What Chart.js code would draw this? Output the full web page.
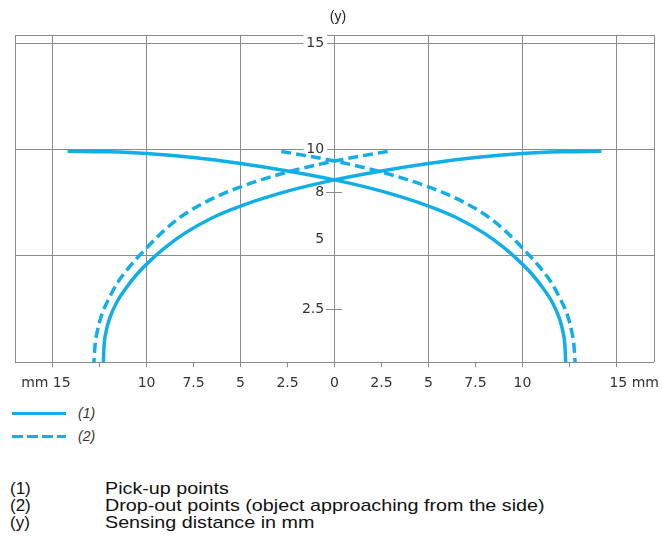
<!DOCTYPE html>
<html>
<head>
<meta charset="utf-8">
<script src="https://cdn.jsdelivr.net/npm/chart.js@4.4.1/dist/chart.umd.min.js"></script>
<style>
  body { margin: 0; background: #fff; font-family: "Liberation Sans", Arial, sans-serif; }
  #wrap { position: absolute; left: 0; top: 0; width: 662px; height: 403px; }
  #ytitle { position: absolute; top: 8px; left: 338px; transform: translateX(-50%); font-size: 14px; color: #222; }
  .leg { position: absolute; left: 12px; height: 14px; width: 110px; }
  .leg .smp { position: absolute; left: 0; top: 5px; width: 54px; height: 3px; }
  .leg .lbl { position: absolute; left: 66px; top: -2px; font-size: 14px; font-style: italic; color: #333; }
  .note { position: absolute; left: 10px; font-size: 17px; line-height: 17px; color: #111; }
  .note span { position: absolute; left: 95px; white-space: nowrap; transform: scaleX(1.16); transform-origin: 0 50%; }
</style>
</head>
<body>
<div id="wrap"><canvas id="chart"></canvas></div>
<div id="ytitle">(y)</div>
<div class="leg" style="top:407px"><div class="smp" style="background:#12aee8"></div><div class="lbl">(1)</div></div>
<div class="leg" style="top:430px"><div class="smp" style="background:repeating-linear-gradient(90deg,#12aee8 0 11px,transparent 11px 15px)"></div><div class="lbl">(2)</div></div>
<div class="note" style="top:480px">(1)<span>Pick-up points</span></div>
<div class="note" style="top:497px">(2)<span>Drop-out points (object approaching from the side)</span></div>
<div class="note" style="top:514px">(y)<span>Sensing distance in mm</span></div>
<script>
const curveColor = "#12aee8";
const gridColor = "#8a8a8a";

// pick-up points (1), both halves of the lobe
const pickupLeftX = [-14.2, -12, -10, -7.5, -5, -2.5, 0, 2.5, 5, 6.5, 8, 9, 9.8, 10.5, 11.1, 11.6, 11.95, 12.15, 12.26, 12.3];
const pickupLeftY = [9.93, 9.9, 9.82, 9.63, 9.35, 9.0, 8.58, 8.05, 7.35, 6.8, 6.05, 5.4, 4.78, 4.15, 3.48, 2.8, 2.1, 1.45, 0.78, 0];
const pickupRightX = [14.2, 12, 10, 7.5, 5, 2.5, 0, -2.5, -5, -6.5, -8, -9, -9.8, -10.5, -11.1, -11.6, -11.95, -12.15, -12.26, -12.3];
const pickupRightY = [9.93, 9.9, 9.82, 9.63, 9.35, 9.0, 8.58, 8.05, 7.35, 6.8, 6.05, 5.4, 4.78, 4.15, 3.48, 2.8, 2.1, 1.45, 0.78, 0];

// drop-out points (2)
const dropLeftX = [-2.83, -1.5, 0, 2.5, 5, 6.5, 8, 9, 10.1, 10.9, 11.5, 12.0, 12.4, 12.62, 12.74, 12.8];
const dropLeftY = [9.92, 9.72, 9.47, 8.95, 8.25, 7.7, 6.95, 6.25, 5.28, 4.5, 3.8, 3.0, 2.2, 1.45, 0.8, 0];
const dropRightX = [2.83, 1.5, 0, -2.5, -5, -6.5, -8, -9, -10.1, -10.9, -11.5, -12.0, -12.4, -12.62, -12.74, -12.8];
const dropRightY = [9.92, 9.72, 9.47, 8.95, 8.25, 7.7, 6.95, 6.25, 5.28, 4.5, 3.8, 3.0, 2.2, 1.45, 0.8, 0];

const xTickValues = [-17, -15, -12.5, -10, -7.5, -5, -2.5, 0, 2.5, 5, 7.5, 10, 12.5, 15, 17];
const xGridValues = [-17, -15, -10, -5, 0, 5, 10, 15, 17];
const yTickValues = [0, 2.5, 5, 8, 10, 15, 15.4];
const yGridValues = [0, 5, 10, 15, 15.4];
const yLabelValues = [2.5, 5, 8, 10, 15];

const tickFont = { family: "DejaVu Sans", size: 14 };

function pts(xs, ys) {
  return xs.map((x, i) => ({ x: x, y: ys[i] }));
}

function curve(xs, ys, dashed) {
  return {
    data: pts(xs, ys),
    showLine: true,
    borderColor: curveColor,
    borderWidth: 3.5,
    borderDash: dashed ? [10, 5] : [],
    pointRadius: 0,
    tension: 0.4,
    cubicInterpolationMode: "monotone",
    fill: false,
  };
}

function xLabel(v) {
  // the unit sits outside the number, so pad to keep "15" near its tick
  if (v === -15) return "mm 15   ";
  if (v === 15) return "        15 mm";
  if (Math.abs(v) === 12.5 || Math.abs(v) === 17) return "";
  return String(Math.abs(v));
}

function yLabel(v) {
  if (!yLabelValues.includes(v)) return "";
  // the 5 sits above its grid line in the original
  if (v === 5) return ["5", "", ""];
  return String(v);
}

const setYTicks = (scale) => {
  scale.ticks = yTickValues.map((v) => ({ value: v }));
};

new Chart(document.getElementById("chart"), {
  type: "scatter",
  data: {
    datasets: [
      curve(pickupLeftX, pickupLeftY, false),
      curve(pickupRightX, pickupRightY, false),
      curve(dropLeftX, dropLeftY, true),
      curve(dropRightX, dropRightY, true),
    ],
  },
  options: {
    responsive: true,
    maintainAspectRatio: false,
    animation: false,
    layout: { padding: { left: 15, right: 1, top: 35, bottom: 3 } },
    plugins: { legend: { display: false }, tooltip: { enabled: false } },
    scales: {
      x: {
        type: "linear",
        min: -17,
        max: 17,
        afterBuildTicks: (scale) => {
          scale.ticks = xTickValues.map((v) => ({ value: v }));
        },
        border: { display: false },
        grid: {
          color: (ctx) => (xGridValues.includes(ctx.tick.value) ? gridColor : "rgba(0,0,0,0)"),
          tickColor: (ctx) => (Math.abs(ctx.tick.value) === 17 ? "rgba(0,0,0,0)" : gridColor),
          tickLength: 5,
          lineWidth: 1,
        },
        ticks: {
          autoSkip: false,
          maxRotation: 0,
          padding: 8,
          color: "#333",
          font: tickFont,
          callback: (v) => xLabel(v),
        },
      },
      // grid lines and the short marks across the centre line
      y: {
        type: "linear",
        min: 0,
        max: 15.4,
        position: { x: 0.42 },
        afterBuildTicks: setYTicks,
        border: { display: false },
        grid: {
          color: (ctx) => (yGridValues.includes(ctx.tick.value) ? gridColor : "rgba(0,0,0,0)"),
          tickColor: (ctx) => (yLabelValues.includes(ctx.tick.value) ? gridColor : "rgba(0,0,0,0)"),
          tickLength: 16,
          lineWidth: 1,
        },
        ticks: { display: false },
      },
      // the numbers left of the centre line
      yLabels: {
        type: "linear",
        axis: "y",
        min: 0,
        max: 15.4,
        position: { x: -0.55 },
        afterBuildTicks: setYTicks,
        border: { display: false },
        grid: { display: false },
        ticks: {
          padding: 4,
          color: "#333",
          font: tickFont,
          showLabelBackdrop: true,
          backdropColor: (ctx) => (ctx.tick && (ctx.tick.value === 10 || ctx.tick.value === 15) ? "#fff" : "rgba(0,0,0,0)"),
          backdropPadding: { left: 3, right: 3, top: 0, bottom: 0 },
          callback: (v) => yLabel(v),
        },
      },
    },
  },
});
</script>
</body>
</html>
